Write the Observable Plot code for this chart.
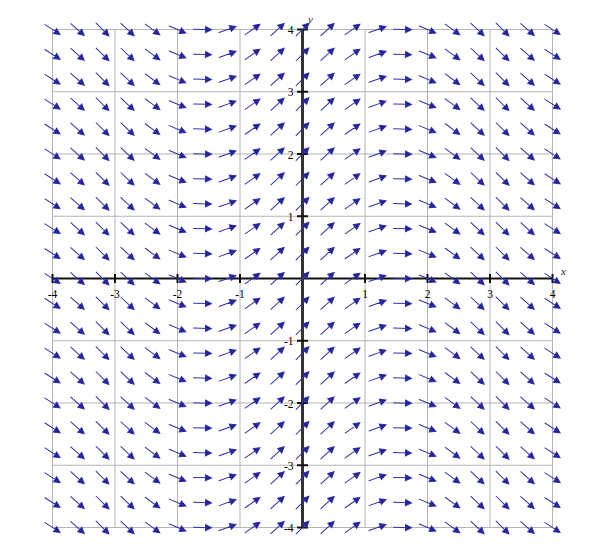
<!DOCTYPE html>
<html>
<head>
<meta charset="utf-8">
<script src="https://cdn.jsdelivr.net/npm/d3@7"></script>
<script src="https://cdn.jsdelivr.net/npm/@observablehq/plot@0.6"></script>
<style>
  html, body { margin: 0; padding: 0; background: #fff; }
  #chart svg { display: block; }
</style>
</head>
<body>
<div id="chart"></div>
<script>
// Column (x) and row (y) positions of the slope-field arrows
const xs = [-4, -3.6, -3.2, -2.8, -2.4, -2, -1.6, -1.2, -0.8, -0.4, 0, 0.4, 0.8, 1.2, 1.6, 2, 2.4, 2.8, 3.2, 3.6, 4];
const ys = [-4, -3.6, -3.2, -2.8, -2.4, -2, -1.6, -1.2, -0.8, -0.4, 0, 0.4, 0.8, 1.2, 1.6, 2, 2.4, 2.8, 3.2, 3.6, 4];
// Slope read in each column (same for every row)
const slopes = [-0.65, -0.89, -1.0, -0.94, -0.74, -0.42, -0.03, 0.36, 0.70, 0.92, 1.0, 0.92, 0.70, 0.36, -0.03, -0.42, -0.74, -0.94, -1.0, -0.89, -0.65];
// Grid lines and tick labels
const gridValues = [-4, -3, -2, -1, 0, 1, 2, 3, 4];
const xTickLabels = ["-4", "-3", "-2", "-1", "1", "2", "3", "4"];
const xTickValues = [-4, -3, -2, -1, 1, 2, 3, 4];
const yTickLabels = ["-4", "-3", "-2", "-1", "1", "2", "3", "4"];
const yTickValues = [-4, -3, -2, -1, 1, 2, 3, 4];

const field = xs.flatMap((x, i) => ys.map(y => ({x, y, slope: slopes[i]})));

const W = 608, H = 557;
const mL = 52, mR = 56, mT = 29, mB = 30;
const kx = (W - mL - mR) / 8, ky = (H - mT - mB) / 8;

const arrowShape = {
  draw(ctx, l, r) {
    const h = 6, w = 3;
    ctx.moveTo(0, 0);
    ctx.lineTo(0, -l + h * 0.6);
    ctx.moveTo(0, -l);
    ctx.lineTo(-w, -l + h);
    ctx.lineTo(w, -l + h);
    ctx.closePath();
  }
};
const lineShape = {
  draw(ctx, l) {
    ctx.moveTo(0, 0);
    ctx.lineTo(0, -l);
  }
};

const serif = "'Liberation Serif', 'DejaVu Serif', serif";

const chart = Plot.plot({
  width: W,
  height: H,
  marginLeft: mL,
  marginRight: mR,
  marginTop: mT,
  marginBottom: mB,
  x: {domain: [-4, 4], axis: null},
  y: {domain: [-4, 4], axis: null},
  style: {background: "#fff"},
  marks: [
    Plot.ruleX(gridValues, {x: d => d, y1: -4, y2: 4, stroke: "#b4b4b4", strokeWidth: 1}),
    Plot.ruleY(gridValues, {y: d => d, x1: -4, x2: 4, stroke: "#b4b4b4", strokeWidth: 1}),
    Plot.ruleY([0], {x1: -4, x2: 4, stroke: "#111", strokeWidth: 2}),
    Plot.ruleX([0], {y1: -4, y2: 4, stroke: "#333", strokeWidth: 3}),
    Plot.vector(xTickValues, {x: d => d, y: 0, length: 9, rotate: 0, anchor: "middle", shape: lineShape, stroke: "#111", strokeWidth: 2, strokeLinecap: "butt"}),
    Plot.vector(yTickValues, {x: 0, y: d => d, length: 11, rotate: 90, anchor: "middle", shape: lineShape, stroke: "#111", strokeWidth: 2, strokeLinecap: "butt"}),
    Plot.text(xTickValues, {x: d => d, y: 0, text: (d, i) => xTickLabels[i], dy: 16, textAnchor: "middle", fontFamily: serif, fontSize: 11.5, fill: "#000"}),
    Plot.text(yTickValues, {x: 0, y: d => d, text: (d, i) => yTickLabels[i], dx: -9, dy: 1, textAnchor: "end", fontFamily: serif, fontSize: 11.5, fill: "#000"}),
    Plot.text(["x"], {x: 4, y: 0, text: d => d, dx: 11, dy: -7, fontFamily: serif, fontStyle: "italic", fontSize: 11, fill: "#222"}),
    Plot.text(["y"], {x: 0, y: 4, text: d => d, dx: 8, dy: -10, fontFamily: serif, fontStyle: "italic", fontSize: 11, fill: "#222"}),
    Plot.vector(field, {
      x: "x",
      y: "y",
      length: 18,
      rotate: d => 90 - Math.atan(d.slope * ky / kx) * 180 / Math.PI,
      anchor: "middle",
      shape: arrowShape,
      stroke: "#3030ac",
      fill: "#1c1c8c",
      strokeWidth: 1,
      strokeLinecap: "round",
      strokeLinejoin: "miter"
    })
  ]
});
document.getElementById("chart").appendChild(chart);
</script>
</body>
</html>
